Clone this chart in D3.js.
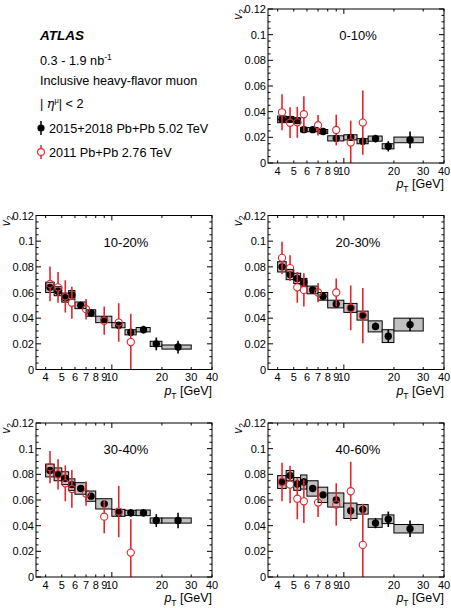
<!DOCTYPE html>
<html>
<head>
<meta charset="utf-8">
<script src="https://cdn.jsdelivr.net/npm/d3@7"></script>
<style>
  body { margin: 0; background: #fff; }
  svg { font-family: "Liberation Sans", Arial, sans-serif; }
</style>
</head>
<body>
<div id="chart"></div>
<script>
// pT bins (GeV) of the 2015+2018 measurement and the 2011 points
var binLo = [4, 4.5, 5, 5.5, 6, 7, 8, 10, 12, 14, 17, 20];
var binHi = [4.5, 5, 5.5, 6, 7, 8, 10, 12, 14, 17, 20, 30];
var ptNew = [4.25, 4.75, 5.25, 5.75, 6.5, 7.5, 9, 11, 13, 15.5, 18.5, 25];
var ptOld = [4.25, 4.75, 5.25, 5.75, 7, 9, 11, 13];

var centralities = ["0-10%", "10-20%", "20-30%", "30-40%", "40-60%"];

// 2015+2018 Pb+Pb 5.02 TeV: v2, stat. error, syst. error
var v2New = [
  [0.034, 0.034, 0.033, 0.026, 0.026, 0.0245, 0.0192, 0.020, 0.017, 0.019, 0.013, 0.018],
  [0.064, 0.061, 0.056, 0.058, 0.050, 0.044, 0.039, 0.0345, 0.029, 0.031, 0.020, 0.0175],
  [0.080, 0.074, 0.071, 0.068, 0.062, 0.057, 0.051, 0.048, 0.042, 0.0336, 0.026, 0.035],
  [0.083, 0.080, 0.077, 0.072, 0.069, 0.063, 0.057, 0.050, 0.050, 0.050, 0.044, 0.044],
  [0.074, 0.079, 0.0725, 0.074, 0.069, 0.064, 0.060, 0.0516, 0.0527, 0.042, 0.045, 0.0376]
];
var statNew = [
  [0.002, 0.002, 0.002, 0.0012, 0.0012, 0.0012, 0.002, 0.002, 0.002, 0.003, 0.004, 0.0065],
  [0.002, 0.002, 0.002, 0.002, 0.0015, 0.0015, 0.0015, 0.002, 0.002, 0.003, 0.005, 0.005],
  [0.002, 0.002, 0.002, 0.002, 0.0015, 0.0015, 0.002, 0.002, 0.002, 0.003, 0.005, 0.005],
  [0.002, 0.002, 0.002, 0.002, 0.002, 0.002, 0.002, 0.002, 0.003, 0.003, 0.005, 0.006],
  [0.003, 0.003, 0.003, 0.003, 0.002, 0.002, 0.002, 0.003, 0.003, 0.004, 0.006, 0.0065]
];
var sysNew = [
  [0.0026, 0.0022, 0.0022, 0.0018, 0.0016, 0.0016, 0.002, 0.002, 0.002, 0.002, 0.002, 0.0022],
  [0.004, 0.0035, 0.0035, 0.0035, 0.0026, 0.0025, 0.0025, 0.002, 0.002, 0.0017, 0.002, 0.0016],
  [0.004, 0.004, 0.004, 0.003, 0.003, 0.003, 0.003, 0.0035, 0.0035, 0.0043, 0.005, 0.005],
  [0.005, 0.005, 0.005, 0.0045, 0.0045, 0.004, 0.004, 0.0027, 0.002, 0.0022, 0.002, 0.002],
  [0.005, 0.004, 0.005, 0.0055, 0.006, 0.006, 0.0055, 0.006, 0.0037, 0.0033, 0.0034, 0.0033]
];

// 2011 Pb+Pb 2.76 TeV: v2 and total error
var v2Old = [
  [0.0395, 0.0314, 0.0317, 0.038, 0.0294, 0.0257, 0.016, 0.0315],
  [0.0667, 0.064, 0.057, 0.052, 0.047, 0.038, 0.0366, 0.0214],
  [0.087, 0.079, 0.064, 0.062, 0.060, 0.060, 0.048, 0.042],
  [0.0856, 0.080, 0.073, 0.0686, 0.065, 0.047, 0.051, 0.019],
  [0.074, 0.072, 0.061, 0.059, 0.058, 0.0565, 0.0668, 0.025]
];
var errOld = [
  [0.014, 0.012, 0.012, 0.014, 0.008, 0.012, 0.017, 0.025],
  [0.0135, 0.012, 0.0125, 0.0125, 0.008, 0.011, 0.015, 0.022],
  [0.0125, 0.010, 0.012, 0.013, 0.0075, 0.011, 0.0175, 0.0215],
  [0.0125, 0.0118, 0.014, 0.0147, 0.0095, 0.013, 0.020, 0.026],
  [0.015, 0.0146, 0.016, 0.017, 0.0113, 0.0165, 0.023, 0.032]
];

var xTicks = [4, 5, 6, 7, 8, 9, 10, 20, 30, 40];
var yTicks = [0, 0.02, 0.04, 0.06, 0.08, 0.1, 0.12];
var yMinor = d3.range(0, 0.1201, 0.005);

var red = "#e3262b";
var W = 176, H = 154;
var origins = [[268, 9], [36, 215.5], [268, 215.5], [36, 423], [268, 423]];

var svg = d3.select("#chart").append("svg")
    .attr("width", 451)
    .attr("height", 608);

// legend block (top left)
var fs = 12.7;
var leg = svg.append("g");
leg.append("text").attr("x", 40).attr("y", 39.5)
    .attr("font-size", 13.5).attr("font-weight", "bold").attr("font-style", "italic")
    .text("ATLAS");
var lum = leg.append("text").attr("x", 40).attr("y", 64.5).attr("font-size", fs);
lum.append("tspan").text("0.3 - 1.9 nb");
lum.append("tspan").attr("dy", -5).attr("font-size", 8.5).text("-1");
leg.append("text").attr("x", 40).attr("y", 85).attr("font-size", fs)
    .text("Inclusive heavy-flavor muon");
var eta = leg.append("text").attr("x", 40).attr("y", 107.5).attr("font-size", fs);
eta.append("tspan").text("| ");
eta.append("tspan").attr("font-family", "DejaVu Serif").attr("font-style", "italic").text("\u03b7");
eta.append("tspan").attr("dy", -5).attr("font-size", 7.5).text("\u03bc");
eta.append("tspan").attr("dy", 5).text("| < 2");

leg.append("line").attr("x1", 41).attr("x2", 41).attr("y1", 121).attr("y2", 135)
    .attr("stroke", "#000").attr("stroke-width", 1.5);
leg.append("circle").attr("cx", 41).attr("cy", 128).attr("r", 3.6).attr("fill", "#000");
leg.append("text").attr("x", 49).attr("y", 132.5).attr("font-size", fs)
    .text("2015+2018 Pb+Pb 5.02 TeV");
leg.append("line").attr("x1", 41).attr("x2", 41).attr("y1", 145).attr("y2", 159)
    .attr("stroke", red).attr("stroke-width", 1.5);
leg.append("circle").attr("cx", 41).attr("cy", 152).attr("r", 3.4)
    .attr("fill", "#fff").attr("stroke", red).attr("stroke-width", 1.1);
leg.append("text").attr("x", 49).attr("y", 156.5).attr("font-size", fs)
    .text("2011 Pb+Pb 2.76 TeV");

centralities.forEach(function(cent, c) {
  var x0 = origins[c][0], y0 = origins[c][1];
  var g = svg.append("g").attr("transform", "translate(" + x0 + "," + y0 + ")");

  var x = d3.scaleLog().domain([3.5, 40]).range([0, W]);
  var y = d3.scaleLinear().domain([0, 0.12]).range([H, 0]);

  g.append("clipPath").attr("id", "clip" + c)
    .append("rect").attr("width", W).attr("height", H);
  var plot = g.append("g").attr("clip-path", "url(#clip" + c + ")");

  // systematic boxes
  plot.selectAll("rect.sys")
    .data(v2New[c])
    .enter()
    .append("rect")
      .attr("class", "sys")
      .attr("x", function(d, i) { return x(binLo[i]); })
      .attr("width", function(d, i) { return x(binHi[i]) - x(binLo[i]); })
      .attr("y", function(d, i) { return y(d + sysNew[c][i]); })
      .attr("height", function(d, i) { return y(d - sysNew[c][i]) - y(d + sysNew[c][i]); })
      .attr("fill", "#c0c0c0")
      .attr("stroke", "#000")
      .attr("stroke-width", 1);

  // new data: stat error bars and markers
  plot.selectAll("line.statNew")
    .data(v2New[c])
    .enter()
    .append("line")
      .attr("x1", function(d, i) { return x(ptNew[i]); })
      .attr("x2", function(d, i) { return x(ptNew[i]); })
      .attr("y1", function(d, i) { return y(d + statNew[c][i]); })
      .attr("y2", function(d, i) { return y(d - statNew[c][i]); })
      .attr("stroke", "#000")
      .attr("stroke-width", 1.6);
  plot.selectAll("circle.new")
    .data(v2New[c])
    .enter()
    .append("circle")
      .attr("cx", function(d, i) { return x(ptNew[i]); })
      .attr("cy", function(d) { return y(d); })
      .attr("r", 3.7)
      .attr("fill", "#000");

  // 2011 data: error bars stop at the open marker
  var r = 3.6;
  plot.selectAll("line.oldUp")
    .data(v2Old[c])
    .enter()
    .append("line")
      .attr("x1", function(d, i) { return x(ptOld[i]); })
      .attr("x2", function(d, i) { return x(ptOld[i]); })
      .attr("y1", function(d, i) { return y(d + errOld[c][i]); })
      .attr("y2", function(d) { return y(d) - r; })
      .attr("stroke", red)
      .attr("stroke-width", 1.6);
  plot.selectAll("line.oldDown")
    .data(v2Old[c])
    .enter()
    .append("line")
      .attr("x1", function(d, i) { return x(ptOld[i]); })
      .attr("x2", function(d, i) { return x(ptOld[i]); })
      .attr("y1", function(d) { return y(d) + r; })
      .attr("y2", function(d, i) { return y(d - errOld[c][i]); })
      .attr("stroke", red)
      .attr("stroke-width", 1.6);
  plot.selectAll("circle.old")
    .data(v2Old[c])
    .enter()
    .append("circle")
      .attr("cx", function(d, i) { return x(ptOld[i]); })
      .attr("cy", function(d) { return y(d); })
      .attr("r", r)
      .attr("fill", "none")
      .attr("stroke", red)
      .attr("stroke-width", 1.1);

  // frame
  g.append("rect").attr("width", W).attr("height", H)
    .attr("fill", "none").attr("stroke", "#000").attr("stroke-width", 1);

  // ticks on all four sides, pointing inward
  var ticks = g.append("g").attr("stroke", "#000").attr("stroke-width", 1);
  yMinor.forEach(function(v) {
    var major = yTicks.some(function(t) { return Math.abs(t - v) < 1e-6; });
    var len = major ? 5 : 2.5;
    ticks.append("line").attr("x1", 0).attr("x2", len).attr("y1", y(v)).attr("y2", y(v));
    ticks.append("line").attr("x1", W).attr("x2", W - len).attr("y1", y(v)).attr("y2", y(v));
  });
  xTicks.forEach(function(v) {
    var len = v === 10 ? 5 : 2.5;
    ticks.append("line").attr("x1", x(v)).attr("x2", x(v)).attr("y1", H).attr("y2", H - len);
    ticks.append("line").attr("x1", x(v)).attr("x2", x(v)).attr("y1", 0).attr("y2", len);
  });

  // tick labels
  g.selectAll("text.ylab")
    .data(yTicks)
    .enter()
    .append("text")
      .attr("x", -2)
      .attr("y", function(d) { return y(d) + 4; })
      .attr("text-anchor", "end")
      .attr("font-size", 11)
      .text(function(d) { return d === 0 ? "0" : String(+d.toFixed(2)); });
  g.selectAll("text.xlab")
    .data(xTicks)
    .enter()
    .append("text")
      .attr("x", function(d) { return x(d); })
      .attr("y", H + 11.5)
      .attr("text-anchor", "middle")
      .attr("font-size", 11)
      .text(function(d) { return d; });

  // axis titles
  var xt = g.append("text").attr("x", W).attr("y", H + 25)
      .attr("text-anchor", "end").attr("font-size", 12.5);
  xt.append("tspan").attr("font-style", "italic").text("p");
  xt.append("tspan").attr("dy", 4).attr("font-size", 8.5).text("T");
  xt.append("tspan").attr("dy", -4).text(" [GeV]");

  var yt = g.append("text")
      .attr("transform", "translate(-26,0) rotate(-90)")
      .attr("text-anchor", "end").attr("font-size", 12);
  yt.append("tspan").attr("font-style", "italic").text("v");
  yt.append("tspan").attr("dy", 3).attr("font-size", 8.5).text("2");

  g.append("text").attr("x", 90).attr("y", 31)
    .attr("text-anchor", "middle").attr("font-size", 13)
    .text(cent);
});
</script>
</body>
</html>
